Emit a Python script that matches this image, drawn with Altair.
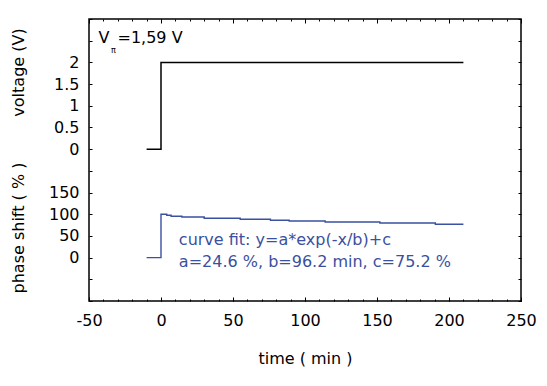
import altair as alt
import pandas as pd

# ---- data ----
time_v = [-10, 0, 210]
voltage = [0, 2, 2]

time_p = [-10, 0, 4, 7, 14.5, 30, 55, 76, 89, 114, 152, 190.5, 210]
phase = [0, 99.8, 97.5, 95.2, 93.6, 90.6, 88.3, 86.0, 84.4, 82.1, 79.8, 76.8, 76.8]

x_major = [-50, 0, 50, 100, 150, 200, 250]
x_minor = list(range(-50, 251, 10))
volt_ticks = [0, 0.5, 1, 1.5, 2]
volt_labels = ["0", "0.5", "1", "1.5", "2"]
phase_ticks = [0, 50, 100, 150]
phase_labels = ["0", "50", "100", "150"]

fit_lines = ["curve fit: y=a*exp(-x/b)+c", "a=24.6 %, b=96.2 min, c=75.2 %"]
vpi_parts = ["V", "\u03c0", "=1,59 V"]

# annotation anchors (data units: time, stacked-axis unit)
vpi_x = [-43.4, -34.7, -30.2]
vpi_y = [11.88, 11.45, 11.88]
fit_x = [12.4, 12.4]
fit_y = [2.58, 1.58]

# stacked y axis: voltage 0..2 V -> units 7..11, phase 0..150 % -> units 2..5
def v_unit(v):
    return 7 + 2 * v

def p_unit(p):
    return 2 + p / 50

W, H = 432, 282
FONT = "DejaVu Sans"
BLUE = "#3a50a0"

xs = alt.Scale(domain=[-50, 250], nice=False, zero=False)
ys = alt.Scale(domain=[0, 13], nice=False, zero=False)
all_units = list(range(0, 14))

label_units = [v_unit(v) for v in volt_ticks] + [p_unit(p) for p in phase_ticks]
label_texts = volt_labels + phase_labels
expr = "''"
for u, t in reversed(list(zip(label_units, label_texts))):
    expr = f"datum.value == {u:g} ? '{t}' : ({expr})"

x_expr = "datum.value < 0 ? '-' + abs(datum.value) : '' + datum.value"

df_v = pd.DataFrame({"t": time_v, "u": [v_unit(v) for v in voltage]})
df_p = pd.DataFrame({"t": time_p, "u": [p_unit(p) for p in phase]})
df_vpi = pd.DataFrame({"t": vpi_x, "u": vpi_y, "s": vpi_parts})
df_fit = pd.DataFrame({"t": fit_x, "u": fit_y, "s": fit_lines})

# layer 1: voltage + labelled axes
l1 = alt.Chart(df_v).mark_line(interpolate="step-after", color="black", strokeWidth=1.5).encode(
    x=alt.X("t:Q", scale=xs, axis=alt.Axis(
        orient="bottom", values=x_major, ticks=False, tickSize=0, domain=False,
        labelPadding=24, labelBaseline="alphabetic", labelFlush=False, labelOverlap=False,
        labelExpr=x_expr,
        title="time ( min )", titleX=W / 2, titleY=62, titleBaseline="alphabetic",
        titleAlign="center")),
    y=alt.Y("u:Q", scale=ys, axis=alt.Axis(
        orient="left", values=label_units, labelExpr=expr, ticks=False, tickSize=0,
        domain=False, labelPadding=10, labelFlush=False, labelOverlap=False,
        title="voltage (V)", titleAngle=270, titleX=-70.5, titleY=53,
        titleAlign="center", titleBaseline="middle")),
)

# layer 2: phase + inside ticks (bottom major, left)
l2 = alt.Chart(df_p).mark_line(interpolate="step-after", color=BLUE, strokeWidth=1.4).encode(
    x=alt.X("t:Q", scale=xs, axis=alt.Axis(
        orient="top", offset=-H, values=x_major, tickSize=4, labels=False,
        domain=False, title="")),
    y=alt.Y("u:Q", scale=ys, axis=alt.Axis(
        orient="right", offset=-W, values=all_units, tickSize=3, labels=False,
        domain=False, title="phase shift ( % )", titleAngle=270, titleX=-70.5,
        titleY=208.5, titleAlign="center", titleBaseline="middle")),
)

# layer 3: "V" + inside ticks (top major, right)
l3 = alt.Chart(df_vpi.iloc[[0]]).mark_text(
    font=FONT, fontSize=16, align="left", baseline="alphabetic", color="black").encode(
    x=alt.X("t:Q", scale=xs, axis=alt.Axis(
        orient="bottom", offset=-H, values=x_major, tickSize=4, labels=False,
        domain=False, title="")),
    y=alt.Y("u:Q", scale=ys, axis=alt.Axis(
        orient="left", offset=-W, values=all_units, tickSize=3, labels=False,
        domain=False, title="")),
    text="s:N",
)

# layer 4: pi subscript + bottom minor ticks
l4 = alt.Chart(df_vpi.iloc[[1]]).mark_text(
    font=FONT, fontSize=8, align="left", baseline="alphabetic", color="black").encode(
    x=alt.X("t:Q", scale=xs, axis=alt.Axis(
        orient="top", offset=-H, values=x_minor, tickSize=2, labels=False,
        domain=False, title="")),
    y=alt.Y("u:Q", scale=ys, axis=None),
    text="s:N",
)

# layer 5: "=1,59 V" + top minor ticks
l5 = alt.Chart(df_vpi.iloc[[2]]).mark_text(
    font=FONT, fontSize=16, align="left", baseline="alphabetic", color="black").encode(
    x=alt.X("t:Q", scale=xs, axis=alt.Axis(
        orient="bottom", offset=-H, values=x_minor, tickSize=2, labels=False,
        domain=False, title="")),
    y=alt.Y("u:Q", scale=ys, axis=None),
    text="s:N",
)

# layer 6: fit annotation
l6 = alt.Chart(df_fit).mark_text(
    font=FONT, fontSize=16, align="left", baseline="alphabetic", color=BLUE).encode(
    x=alt.X("t:Q", scale=xs, axis=None),
    y=alt.Y("u:Q", scale=ys, axis=None),
    text="s:N",
)

chart = alt.layer(l1, l2, l3, l4, l5, l6).resolve_axis(
    x="independent", y="independent"
).properties(
    width=W, height=H,
    autosize=alt.AutoSizeParams(type="none"),
    padding={"left": 81, "top": 11, "right": 17, "bottom": 70},
    background="white",
).configure_view(
    stroke="black", strokeWidth=1.5
).configure_axis(
    grid=False, labelFont=FONT, labelFontSize=16, labelColor="black",
    titleFont=FONT, titleFontSize=16, titleColor="black", titleFontWeight="normal",
    tickColor="black", tickWidth=1,
)

chart.save("out.html", embed_options={"renderer": "svg", "actions": False})
